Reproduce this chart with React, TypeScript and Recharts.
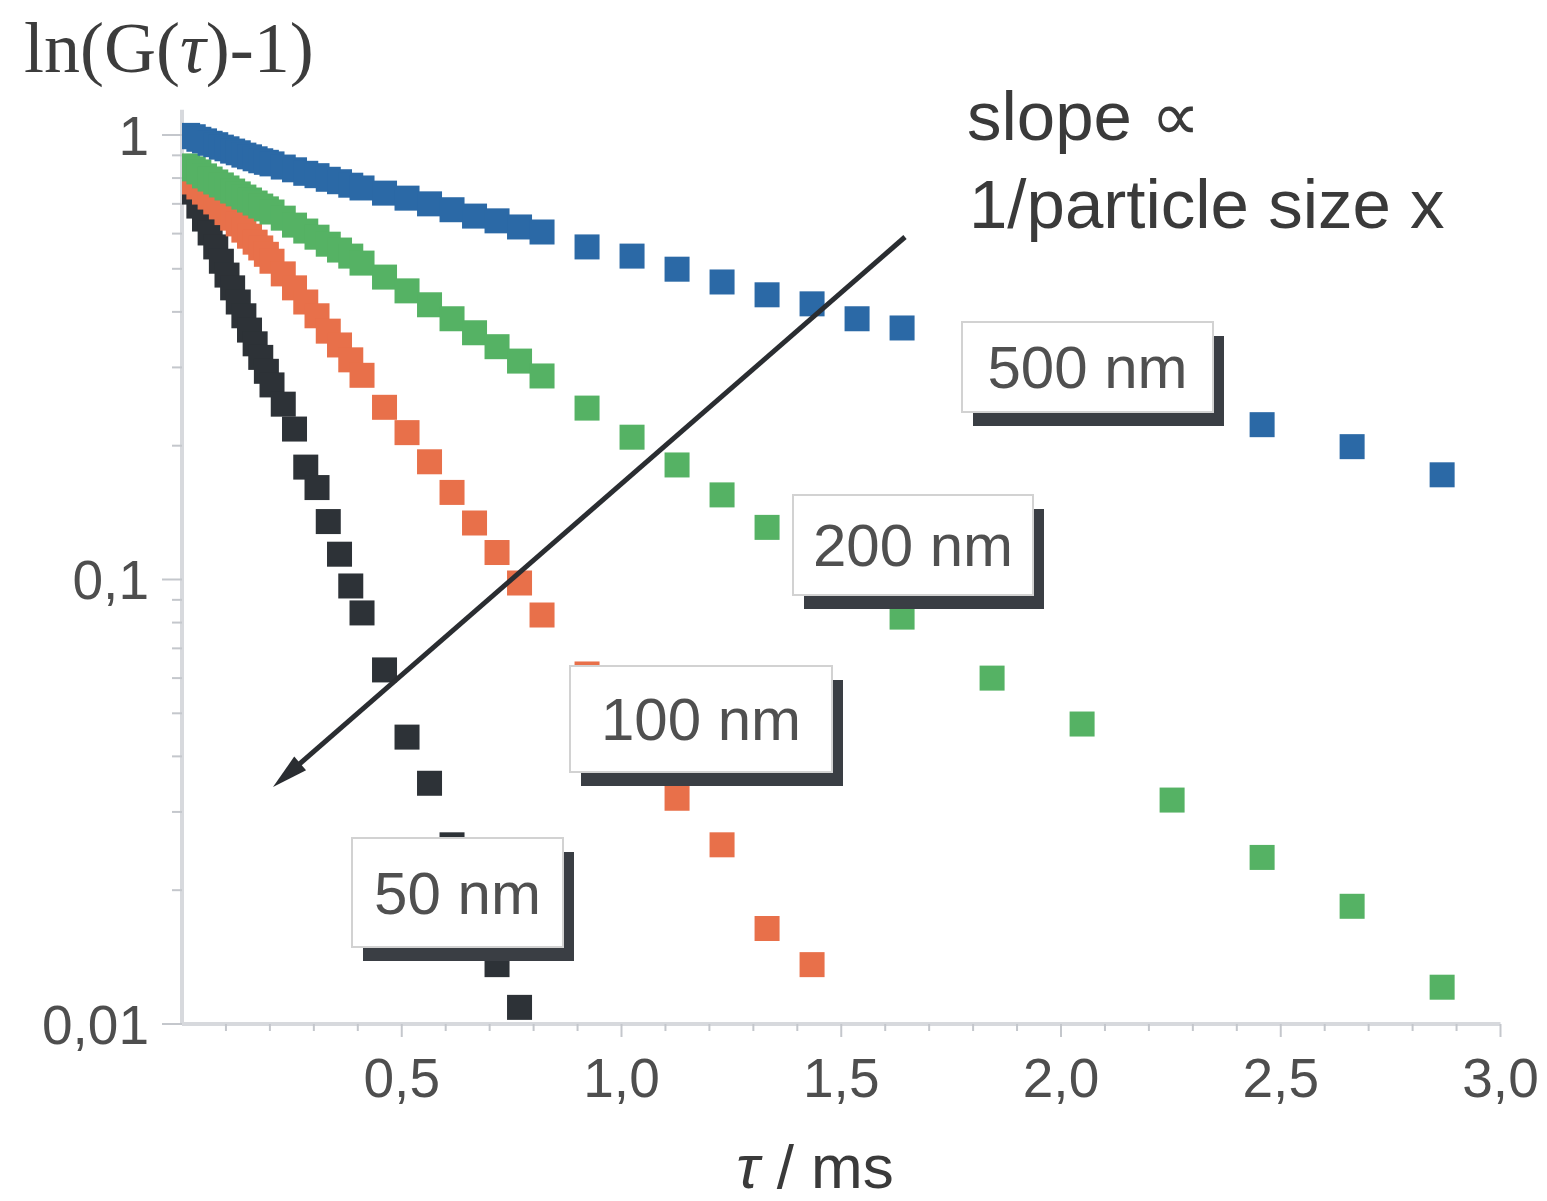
import React from 'react';
import { ScatterChart, Scatter, XAxis, YAxis } from 'recharts';

// Correlator lag times (ms), shared by all four particle sizes
const tau = [
  0.0128, 0.0256, 0.0384, 0.0512, 0.064, 0.0768, 0.0896, 0.1024, 0.1152, 0.128, 0.1408, 0.1536,
  0.1664, 0.1792, 0.192, 0.2048,
  0.2304, 0.256, 0.2816, 0.3072, 0.3328, 0.3584, 0.384, 0.4096,
  0.4608, 0.512, 0.5632, 0.6144, 0.6656, 0.7168, 0.768, 0.8192,
  0.9216, 1.024, 1.1264, 1.2288, 1.3312, 1.4336, 1.536, 1.6384,
  1.8432, 2.048, 2.2528, 2.4576, 2.6624, 2.8672,
];

// G(tau) - 1 for each particle size
const size500 = [
  0.998, 0.991, 0.978, 0.97, 0.958, 0.951, 0.939, 0.931, 0.92, 0.912, 0.901, 0.893, 0.884, 0.875, 0.868, 0.861,
  0.847, 0.835, 0.82, 0.81, 0.795, 0.785, 0.771, 0.76,
  0.74, 0.721, 0.7, 0.679, 0.657, 0.641, 0.621, 0.605,
  0.56, 0.534, 0.499, 0.467, 0.437, 0.417, 0.386, 0.368,
  0.325, 0.287, 0.252, 0.223, 0.199, 0.172,
];
const size200 = [
  0.852, 0.839, 0.826, 0.809, 0.796, 0.784, 0.772, 0.76, 0.748, 0.737, 0.725, 0.714, 0.703, 0.692, 0.682, 0.671,
  0.65, 0.627, 0.608, 0.589, 0.568, 0.551, 0.534, 0.515,
  0.479, 0.446, 0.415, 0.386, 0.359, 0.334, 0.31, 0.287,
  0.243, 0.209, 0.181, 0.155, 0.131, 0.112, 0.0962, 0.0823,
  0.06, 0.0473, 0.0319, 0.0237, 0.0184, 0.0121,
];
const size100 = [
  0.8, 0.784, 0.764, 0.744, 0.725, 0.707, 0.689, 0.669, 0.65, 0.631, 0.611, 0.592, 0.574, 0.557, 0.539, 0.52,
  0.487, 0.453, 0.421, 0.392, 0.362, 0.337, 0.312, 0.288,
  0.244, 0.214, 0.184, 0.157, 0.134, 0.115, 0.0982, 0.0832,
  0.0613, 0.0445, 0.0322, 0.0253, 0.0164, 0.0136,
];
const size50 = [
  0.8, 0.744, 0.692, 0.647, 0.602, 0.56, 0.52, 0.484, 0.453, 0.421, 0.392, 0.364, 0.339, 0.316, 0.294, 0.274,
  0.248, 0.218, 0.179, 0.161, 0.135, 0.114, 0.0967, 0.0841,
  0.0626, 0.0442, 0.0348, 0.0253, 0.0185, 0.0136, 0.0109,
];

const seriesNames = ['50 nm', '100 nm', '200 nm', '500 nm'];

const xTicks = [
  0.1, 0.2, 0.3, 0.4, 0.5, 0.6, 0.7, 0.8, 0.9, 1.0, 1.1, 1.2, 1.3, 1.4, 1.5,
  1.6, 1.7, 1.8, 1.9, 2.0, 2.1, 2.2, 2.3, 2.4, 2.5, 2.6, 2.7, 2.8, 2.9, 3.0,
];
const yTicks = [
  0.01, 0.02, 0.03, 0.04, 0.05, 0.06, 0.07, 0.08, 0.09,
  0.1, 0.2, 0.3, 0.4, 0.5, 0.6, 0.7, 0.8, 0.9, 1,
];
const yTickLabels: Record<string, string> = { '1': '1', '0.1': '0,1', '0.01': '0,01' };

const toPoints = (vals: number[]) => vals.map((g, i) => ({ t: tau[i], g }));

const COLOR_500 = '#2b69a6';
const COLOR_200 = '#55b264';
const COLOR_100 = '#e8704a';
const COLOR_50 = '#2d3237';

const AXIS = '#d7d9dd';
const TICK = '#c4c7cc';
const LABEL = '#4e4e4e';
const SANS = '"Liberation Sans", Arial, Helvetica, sans-serif';
const SERIF = '"Liberation Serif", "Times New Roman", serif';

const MARK = 25;
const square = (color: string) => (props: any) => {
  const { cx, cy } = props;
  if (cx == null || cy == null) return <g />;
  return <rect x={cx - MARK / 2} y={cy - MARK / 2} width={MARK} height={MARK} fill={color} />;
};

const XTick = (props: any) => {
  const { x, y, payload } = props;
  const v = payload.value as number;
  const major = Math.abs(v * 2 - Math.round(v * 2)) < 1e-6;
  return (
    <g>
      <line x1={x} x2={x} y1={y} y2={y + (major ? 13 : 7)} stroke={TICK} strokeWidth={2} />
      {major && (
        <text x={x} y={y + 73} textAnchor="middle" fontSize={55} fill={LABEL} fontFamily={SANS}>
          {v.toFixed(1).replace('.', ',')}
        </text>
      )}
    </g>
  );
};

const YTick = (props: any) => {
  const { x, y, payload } = props;
  const label = yTickLabels[String(payload.value)];
  const major = label !== undefined;
  return (
    <g>
      <line x1={x} x2={x - (major ? 20 : 10)} y1={y} y2={y} stroke={TICK} strokeWidth={2} />
      {major && (
        <text x={x - 33} y={y + 20} textAnchor="end" fontSize={55} fill={LABEL} fontFamily={SANS}>
          {label}
        </text>
      )}
    </g>
  );
};

const SizeLabel = ({ x, y, w, h, text }: { x: number; y: number; w: number; h: number; text: string }) => (
  <g>
    <rect x={x + 11} y={y + 14} width={w} height={h} fill="#3a3e44" />
    <rect x={x} y={y} width={w} height={h} fill="#ffffff" stroke="#d2d2d2" strokeWidth={2} />
    <text
      x={x + w / 2}
      y={y + h / 2 + 21}
      textAnchor="middle"
      fontSize={60}
      fill="#505050"
      fontFamily={SANS}
    >
      {text}
    </text>
  </g>
);

// Arrow pointing towards smaller particles
const ARROW_FROM = { x: 897, y: 229 };
const ARROW_TO = { x: 265, y: 779 };
const Arrow = () => {
  const dx = ARROW_TO.x - ARROW_FROM.x;
  const dy = ARROW_TO.y - ARROW_FROM.y;
  const len = Math.hypot(dx, dy);
  const ux = dx / len;
  const uy = dy / len;
  const headLen = 36;
  const halfW = 9;
  const bx = ARROW_TO.x - ux * headLen;
  const by = ARROW_TO.y - uy * headLen;
  const nx = -uy;
  const ny = ux;
  return (
    <g>
      <line x1={ARROW_FROM.x} y1={ARROW_FROM.y} x2={bx + ux * 4} y2={by + uy * 4} stroke="#2a2d31" strokeWidth={5} />
      <polygon
        points={`${ARROW_TO.x},${ARROW_TO.y} ${bx + nx * halfW},${by + ny * halfW} ${bx - nx * halfW},${by - ny * halfW}`}
        fill="#2a2d31"
      />
    </g>
  );
};

const Overlay = () => (
  <svg
    width={1539}
    height={1193}
    style={{ position: 'absolute', left: 0, top: 0, pointerEvents: 'none', overflow: 'visible' }}
  >
    <text x={16} y={64} fontSize={72} fill="#3c3c3c" fontFamily={SERIF}>
      ln(G(<tspan fontStyle="italic">τ</tspan>)-1)
    </text>
    <text x={959} y={132} fontSize={69} fill="#3a3a3a" fontFamily={SANS}>
      slope ∝
    </text>
    <text x={961} y={220} fontSize={69} fill="#3a3a3a" fontFamily={SANS}>
      1/particle size x
    </text>
    <text x={807} y={1180} textAnchor="middle" fontSize={62} fill="#3a3a3a" fontFamily={SANS}>
      <tspan fontStyle="italic">τ</tspan> / ms
    </text>
    <Arrow />
    <SizeLabel x={954} y={314} w={251} h={90} text={seriesNames[3]} />
    <SizeLabel x={785} y={487} w={240} h={100} text={seriesNames[2]} />
    <SizeLabel x={562} y={658} w={262} h={106} text={seriesNames[1]} />
    <SizeLabel x={344} y={830} w={211} h={109} text={seriesNames[0]} />
  </svg>
);

export default function App() {
  return (
    <div style={{ position: 'relative', width: 1539, height: 1185 }}>
      <ScatterChart width={1539} height={1185} margin={{ top: 101.7, right: 46.5, bottom: 0, left: 0 }}>
        <XAxis
          type="number"
          dataKey="t"
          domain={[0, 3]}
          ticks={xTicks}
          interval={0}
          height={169}
          tickSize={0}
          tickMargin={0}
          tickLine={false}
          axisLine={{ stroke: AXIS, strokeWidth: 4 }}
          tick={(p: any) => <XTick {...p} />}
          allowDataOverflow
        />
        <YAxis
          type="number"
          dataKey="g"
          scale="log"
          domain={[0.01, 1.14]}
          ticks={yTicks}
          interval={0}
          width={174}
          tickSize={0}
          tickMargin={0}
          tickLine={false}
          axisLine={{ stroke: AXIS, strokeWidth: 4 }}
          tick={(p: any) => <YTick {...p} />}
          allowDataOverflow
        />
        <Scatter name={seriesNames[0]} data={toPoints(size50)} shape={square(COLOR_50)} isAnimationActive={false} />
        <Scatter name={seriesNames[1]} data={toPoints(size100)} shape={square(COLOR_100)} isAnimationActive={false} />
        <Scatter name={seriesNames[2]} data={toPoints(size200)} shape={square(COLOR_200)} isAnimationActive={false} />
        <Scatter name={seriesNames[3]} data={toPoints(size500)} shape={square(COLOR_500)} isAnimationActive={false} />
      </ScatterChart>
      <Overlay />
    </div>
  );
}
